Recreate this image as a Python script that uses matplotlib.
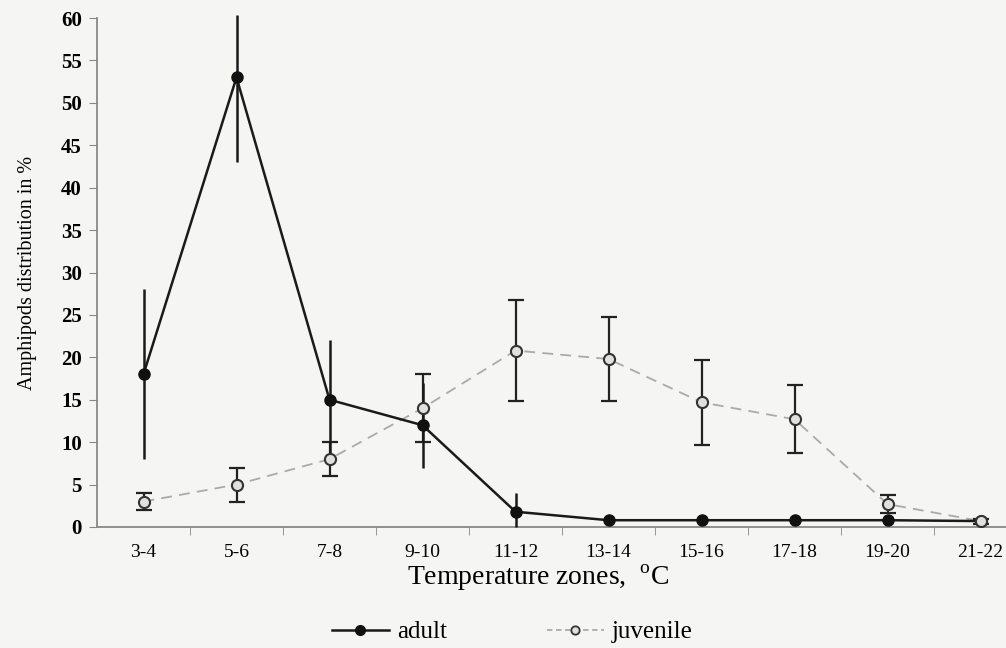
import matplotlib
matplotlib.use("Agg")
import matplotlib.pyplot as plt
from matplotlib.lines import Line2D
import numpy as np

categories = ["3-4", "5-6", "7-8", "9-10", "11-12", "13-14", "15-16", "17-18", "19-20", "21-22"]
adult = [18, 53, 15, 12, 1.8, 0.8, 0.8, 0.8, 0.8, 0.7]
adult_err_low = [10, 10, 7, 5, 1.8, 0, 0, 0, 0, 0]
adult_err_high = [10, 7.4, 7, 5, 2.2, 0, 0, 0, 0, 0]
juvenile = [3, 5, 8, 14, 20.8, 19.8, 14.7, 12.7, 2.7, 0.7]
juvenile_err = [1, 2, 2, 4, 6, 5, 5, 4, 1.1, 0.3]
yticks = list(range(0, 61, 5))

plt.rcParams['font.family'] = ['Liberation Serif', 'DejaVu Serif']
plt.rcParams['mathtext.fontset'] = 'custom'
plt.rcParams['mathtext.rm'] = 'Liberation Serif'

W, H = 1006, 648
fig = plt.figure(figsize=(W / 100, H / 100), dpi=100)
fig.patch.set_facecolor('#f5f5f3')

x0, x1 = 97, 97 + 10 * 93.0
y0, y1 = 527, 18
ax = fig.add_axes([x0 / W, (H - y0) / H, (x1 - x0) / W, (y0 - y1) / H])
ax.set_facecolor('none')

x = np.arange(len(categories))

# juvenile
ax.errorbar(x, juvenile, yerr=juvenile_err, fmt='none', ecolor='#222222',
            elinewidth=1.6, capsize=6, capthick=1.6, zorder=3)
ax.plot(x, juvenile, color='#aaaaaa', linestyle=(0, (6, 4)), linewidth=1.3, zorder=2)
ax.plot(x, juvenile, linestyle='none', marker='o', markersize=8,
        markerfacecolor='#e0e0e0', markeredgecolor='#333333', markeredgewidth=1.5, zorder=6)

# adult
ax.errorbar(x, adult, yerr=[adult_err_low, adult_err_high], fmt='none', ecolor='#1a1a1a',
            elinewidth=1.8, capsize=0, zorder=3, clip_on=False)
ax.plot(x, adult, color='#1a1a1a', linewidth=1.8, marker='o', markersize=8,
        markerfacecolor='#111111', markeredgecolor='#111111', zorder=5)

ax.set_xlim(-0.5, len(categories) - 0.5)
ax.set_ylim(0, 60)
ax.set_yticks(yticks)
ax.set_yticklabels([str(v) for v in yticks], fontsize=15, fontweight='bold')
ax.set_xticks(x)
ax.set_xticklabels(categories, fontsize=14)
ax.set_xticks(np.arange(0.5, len(categories) - 0.5, 1.0), minor=True)
ax.tick_params(axis='x', which='major', length=0, pad=12)
ax.tick_params(axis='x', which='minor', length=6, color='#888888', direction='out')
ax.tick_params(axis='y', length=6, color='#888888', direction='out', pad=5)

for s in ['top', 'right']:
    ax.spines[s].set_visible(False)
for s in ['left', 'bottom']:
    ax.spines[s].set_color('#888888')
    ax.spines[s].set_linewidth(1.3)

ax.set_ylabel('Amphipods distribution in %', fontsize=14.5)
ax.yaxis.set_label_coords((37 - x0) / (x1 - x0), 0.5)

fig.text(538 / W, 1 - 578 / H, r'Temperature zones,  $^{\mathrm{o}}$C', fontsize=20,
         ha='center', va='center')

handles = [
    Line2D([0], [0], color='#1a1a1a', linewidth=1.8, marker='o', markersize=7,
           markerfacecolor='#111111', markeredgecolor='#111111'),
    Line2D([0], [0], color='#aaaaaa', linestyle=(0, (3, 2)), linewidth=1.3, marker='o', markersize=6,
           markerfacecolor='#e0e0e0', markeredgecolor='#333333', markeredgewidth=1.3),
]
fig.legend(handles, ['adult', 'juvenile'], loc='center', bbox_to_anchor=(512 / W, 1 - 632 / H),
           ncol=2, frameon=False, fontsize=18, columnspacing=4.0, handlelength=2.3,
           handletextpad=0.3)

fig.savefig('out.png', dpi=100, facecolor=fig.get_facecolor())
